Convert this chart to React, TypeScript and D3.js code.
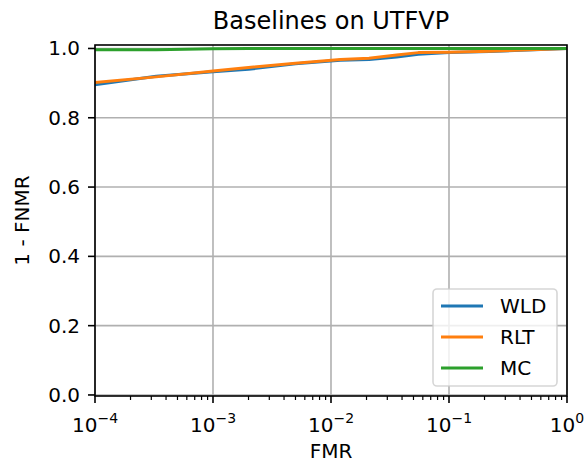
import React from 'react';
import * as d3 from 'd3';

// FMR grid the ROC curves were read at
const fmr = [1e-4, 3.3e-4, 1e-3, 2e-3, 5e-3, 1.2e-2, 2.1e-2, 3.6e-2, 5.5e-2, 0.1, 0.22, 1];

// 1 - FNMR per baseline
const wld = [0.895, 0.920, 0.933, 0.940, 0.956, 0.966, 0.968, 0.975, 0.983, 0.988, 0.991, 1.0];
const rlt = [0.902, 0.918, 0.935, 0.945, 0.957, 0.968, 0.972, 0.981, 0.988, 0.989, 0.992, 1.0];
const mc = [0.996, 0.996, 0.999, 1.0, 1.0, 1.0, 1.0, 1.0, 1.0, 1.0, 1.0, 1.0];

const seriesNames = ['WLD', 'RLT', 'MC'];
const seriesValues = [wld, rlt, mc];
const colors = ['#1f77b4', '#ff7f0e', '#2ca02c'];

const xTickExps = [-4, -3, -2, -1, 0];
const yTicks = [0, 0.2, 0.4, 0.6, 0.8, 1.0];

const width = 586;
const height = 466;
const margin = { top: 45, right: 19, bottom: 70, left: 95 };
const font = 'DejaVu Sans, sans-serif';

export default function App() {
  const x = d3.scaleLog().domain([1e-4, 1]).range([margin.left, width - margin.right]);
  const y = d3.scaleLinear().domain([-0.003, 1.01]).range([height - margin.bottom, margin.top]);

  const x0 = margin.left, x1 = width - margin.right;
  const y0 = height - margin.bottom, y1 = margin.top;

  const line = d3.line<number>()
    .x((_, i) => x(fmr[i]))
    .y(d => y(d));

  // minor log ticks 2..9 in each decade
  const minor: number[] = [];
  for (let e = -4; e < 0; e++) {
    for (let k = 2; k < 10; k++) minor.push(k * Math.pow(10, e));
  }

  // legend layout (matplotlib style, lower right)
  const legW = 124, legH = 97;
  const legX = x1 - 10 - legW, legY = y0 - 10 - legH;

  return (
    <svg width={width} height={height} style={{ position: 'absolute', left: 0, top: 0, background: '#fff' }}
      fontFamily={font}>
      <defs>
        <clipPath id="plot-clip">
          <rect x={x0} y={y1} width={x1 - x0} height={y0 - y1} />
        </clipPath>
      </defs>

      <text x={(x0 + x1) / 2} y={29} textAnchor="middle" fontSize={24} fill="#000">Baselines on UTFVP</text>

      {/* grid */}
      {xTickExps.map(e => (
        <line key={'gx' + e} x1={x(Math.pow(10, e))} x2={x(Math.pow(10, e))} y1={y1} y2={y0}
          stroke="#b0b0b0" strokeWidth={1.6} />
      ))}
      {yTicks.map(t => (
        <line key={'gy' + t} x1={x0} x2={x1} y1={y(t)} y2={y(t)} stroke="#b0b0b0" strokeWidth={1.6} />
      ))}

      {/* curves */}
      <g clipPath="url(#plot-clip)">
        {seriesValues.map((vals, i) => (
          <path key={seriesNames[i]} d={line(vals) || ''} fill="none" stroke={colors[i]}
            strokeWidth={3} strokeLinejoin="round" strokeLinecap="square" />
        ))}
      </g>

      {/* legend */}
      <g>
        <rect x={legX} y={legY} width={legW} height={legH} rx={4} fill="#fff" fillOpacity={0.8}
          stroke="#cccccc" strokeOpacity={0.8} strokeWidth={1.6} />
        {seriesNames.map((name, i) => {
          const cy = legY + 17 + i * 31;
          return (
            <g key={'leg' + name}>
              <line x1={legX + 8} x2={legX + 50} y1={cy} y2={cy} stroke={colors[i]} strokeWidth={3} />
              <text x={legX + 67} y={cy + 7} fontSize={20} fill="#000">{name}</text>
            </g>
          );
        })}
      </g>

      {/* spines */}
      <rect x={x0} y={y1} width={x1 - x0} height={y0 - y1} fill="none" stroke="#000" strokeWidth={1.6} />

      {/* x axis ticks */}
      {minor.map(m => (
        <line key={'mx' + m} x1={x(m)} x2={x(m)} y1={y0} y2={y0 + 4} stroke="#000" strokeWidth={1.2} />
      ))}
      {xTickExps.map(e => {
        const px = x(Math.pow(10, e));
        return (
          <g key={'tx' + e}>
            <line x1={px} x2={px} y1={y0} y2={y0 + 7} stroke="#000" strokeWidth={1.6} />
            <text x={px} y={y0 + 36} textAnchor="middle" fontSize={20} fill="#000">
              <tspan>10</tspan>
              <tspan dy={-9} fontSize={14}>{e < 0 ? '\u2212' + Math.abs(e) : String(e)}</tspan>
            </text>
          </g>
        );
      })}
      <text x={(x0 + x1) / 2} y={y0 + 62} textAnchor="middle" fontSize={20} fill="#000">FMR</text>

      {/* y axis ticks */}
      {yTicks.map(t => (
        <g key={'ty' + t}>
          <line x1={x0 - 7} x2={x0} y1={y(t)} y2={y(t)} stroke="#000" strokeWidth={1.6} />
          <text x={x0 - 15} y={y(t) + 7} textAnchor="end" fontSize={20} fill="#000">{t.toFixed(1)}</text>
        </g>
      ))}
      <text transform={`translate(29, ${(y0 + y1) / 2}) rotate(-90)`} textAnchor="middle" fontSize={20} fill="#000">1 - FNMR</text>
    </svg>
  );
}
